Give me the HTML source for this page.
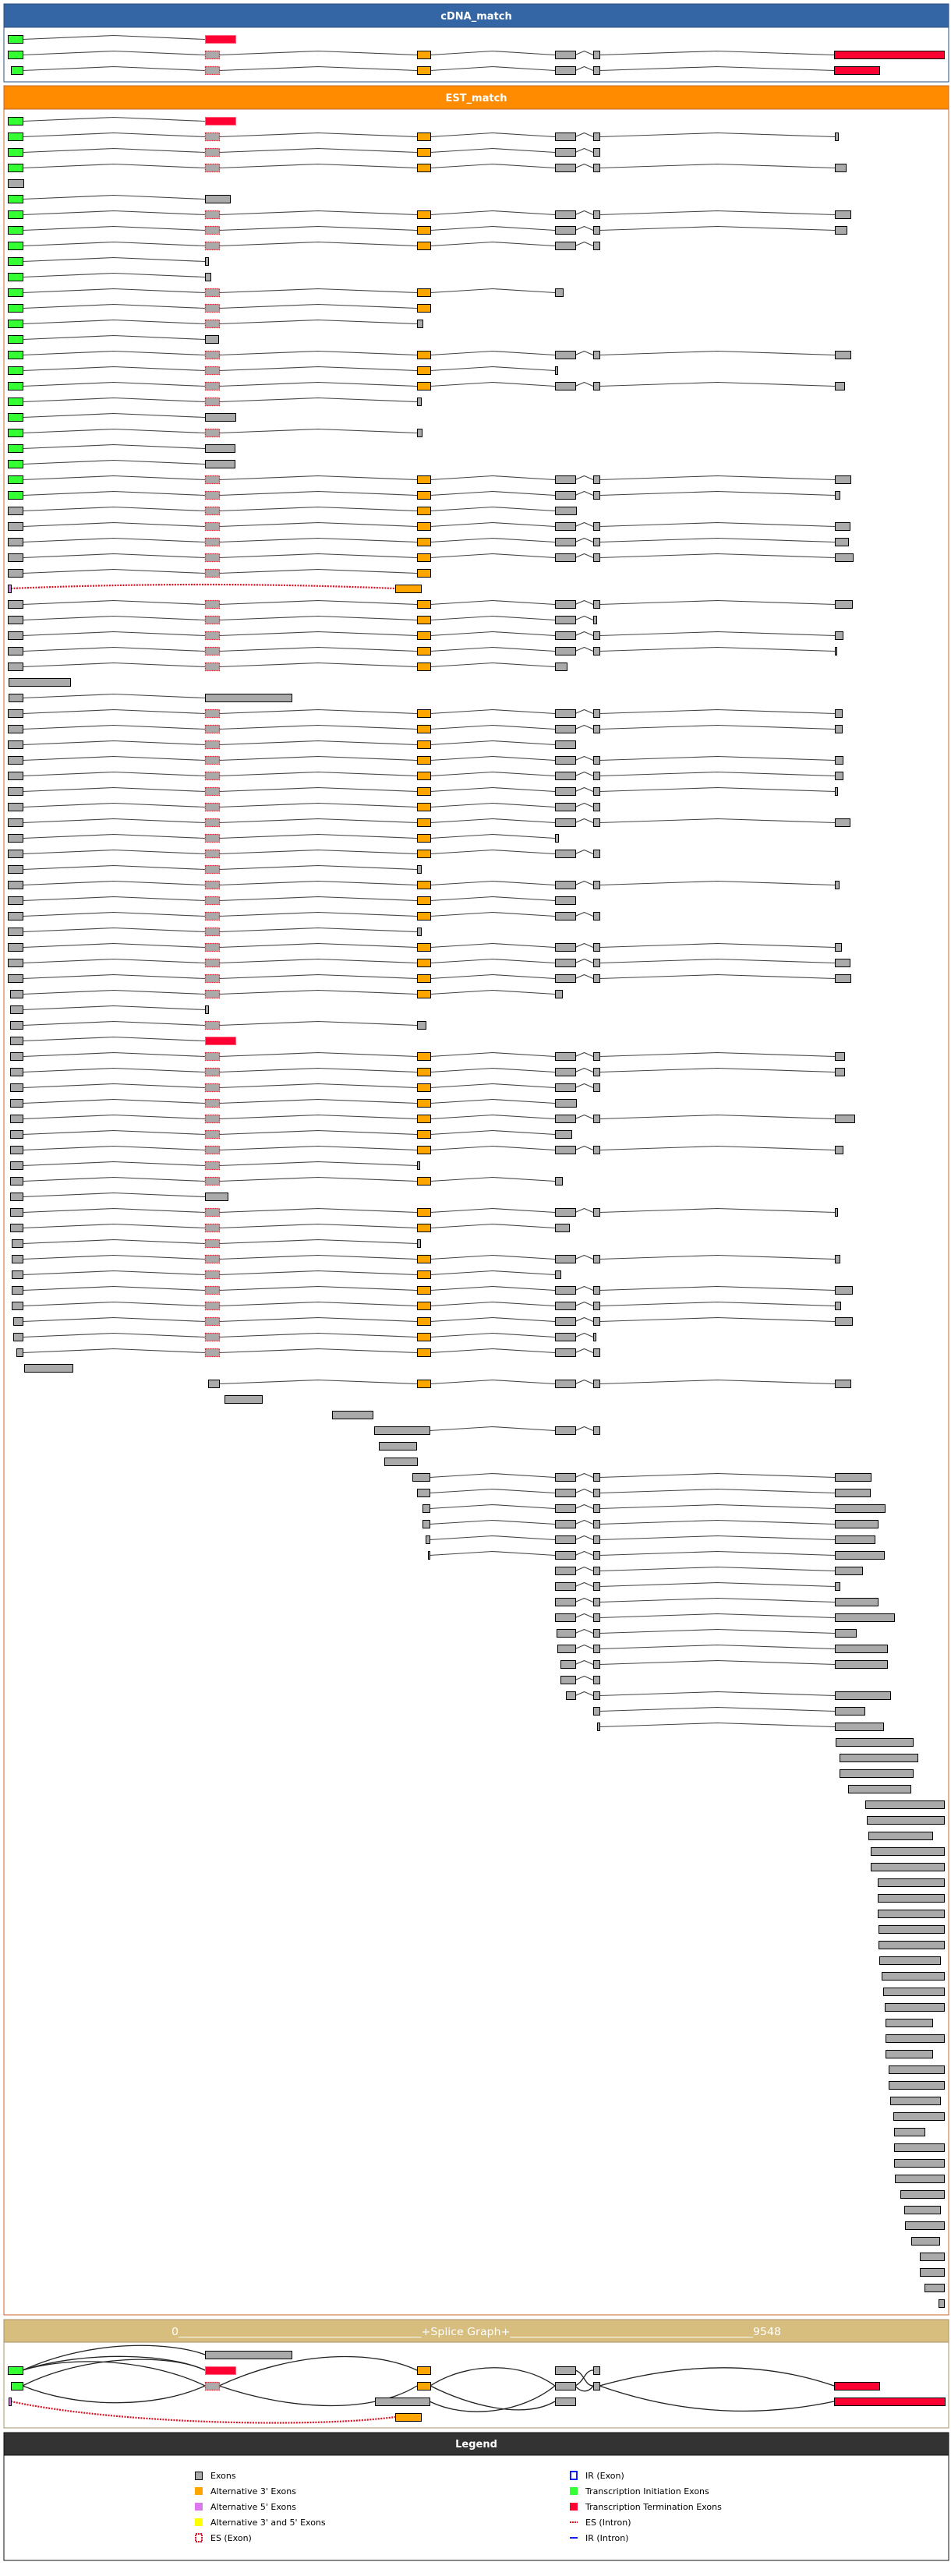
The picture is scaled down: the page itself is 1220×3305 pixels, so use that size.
<!DOCTYPE html>
<html><head><meta charset="utf-8"><style>
html,body{margin:0;padding:0;background:#fff;width:1220px;height:3305px;overflow:hidden}
svg{display:block}
text{font-family:"DejaVu Sans","Liberation Sans",sans-serif}
</style></head><body>
<svg id="s" width="1220" height="3305" xmlns="http://www.w3.org/2000/svg">
<rect x="5" y="5" width="1212" height="30" fill="#3465a5" stroke="#2b4f7a"/>
<rect x="5" y="35" width="1212" height="70" fill="#fff" stroke="#2b4f7a"/>
<text x="611" y="25" fill="#fff" font-size="13" font-weight="bold" text-anchor="middle">cDNA_match</text>
<rect x="5" y="110" width="1212" height="30" fill="#ff8c00" stroke="#c8642a"/>
<rect x="5" y="140" width="1212" height="2830" fill="#fff" stroke="#c8642a"/>
<text x="611" y="130" fill="#fff" font-size="13" font-weight="bold" text-anchor="middle">EST_match</text>
<rect x="5" y="2976" width="1212" height="29" fill="#d7bd7e" stroke="#a8936a"/>
<rect x="5" y="3005" width="1212" height="110" fill="#fff" stroke="#a8936a"/>
<text x="220" y="2996" fill="#fff" font-size="13" textLength="782" lengthAdjust="spacingAndGlyphs">0____________________________________________+Splice Graph+____________________________________________9548</text>
<rect x="5" y="3121" width="1212" height="29" fill="#333" stroke="#111"/>
<rect x="5" y="3150" width="1212" height="135" fill="#fff" stroke="#111"/>
<text x="611" y="3140" fill="#fff" font-size="13" font-weight="bold" text-anchor="middle">Legend</text>
<g id="g"></g>
</svg>
<script>
var N={G:[10,29,'G'],X:[10,29,'X'],E:[263,281,'E'],O:[535,552,'O'],A:[712,738,'X'],B:[761,769,'X'],R:[263,302,'R'],P:[10,14,'P']};
var col={G:'#33ff33',X:'#aaaaaa',E:'#aaaaaa',O:'#ffa500',R:'#ff0033',P:'#dd77ee',Rd:'#ff0033'};
function parse(t){
  if(N[t])return N[t].slice();
  var k='X';
  if(/^[a-z]/.test(t)){var c=t[0];t=t.slice(1);k={g:'G',r:'Rd',o:'O'}[c];}
  var p=t.split('-');return [+p[0],+p[1],k];
}
var out=[];
function exon(e,y){
  var x=e[0],w=Math.max(e[1]-e[0],2),k=e[2];
  if(k=='E')out.push('<rect x="'+x+'.5" y="'+(y-5)+'.5" width="'+w+'" height="10" fill="#aaa" stroke="#ff1a2a" stroke-width="1.3" stroke-dasharray="2,1"/>');
  else if(k=='R')out.push('<rect x="'+x+'.5" y="'+(y-5)+'.5" width="'+w+'" height="10" fill="#ff0033" stroke="#ff5570" stroke-dasharray="2,1"/>');
  else out.push('<rect x="'+x+'.5" y="'+(y-5)+'.5" width="'+w+'" height="10" fill="'+col[k]+'" stroke="#000"/>');
}
function row(s,y){
  var toks=s.split(' '),ex=[],dot=[];
  var d=false;
  toks.forEach(function(t){if(t=='D'){d=true;return;}ex.push(parse(t));dot.push(d);d=false;});
  for(var i=1;i<ex.length;i++){
    var a=ex[i-1][1],b=ex[i][0],m=(a+b)/2;
    if(dot[i])out.push('<path d="M'+a+' '+y+' Q'+m+' '+(y-10)+' '+b+' '+y+'" fill="none" stroke="#dd1122" stroke-width="2.2" stroke-dasharray="2,1.5"/>');
    else out.push('<polyline points="'+a+','+(y+.5)+' '+m+','+(y-4.5)+' '+b+','+(y+.5)+'" fill="none" stroke="#444" stroke-width="1.1"/>');
  }
  ex.forEach(function(e){exon(e,y);});
}
var cd=["G R","G E O A B r1070-1211","g14-29 E O A B r1070-1128"];
cd.forEach(function(s,i){row(s,50+20*i);});
var F="X E O A B ",GG="G E O A B ";
var est=["G R",GG+"1071-1075","G E O A B",GG+"1071-1085","10-30","G 263-295",GG+"1071-1091",GG+"1071-1086","G E O A B","G 263-267",
"G 263-270","G E O 712-722","G E O","G E 535-542","G 263-280",GG+"1071-1091","G E O 712-715",GG+"1071-1083","G E 535-540","G 263-302",
"G E 535-541","G 263-301","G 263-301",GG+"1071-1091",GG+"1071-1077","X E O 712-739",F+"1071-1090",F+"1071-1088",F+"1071-1094","X E O",
"P D o507-540",F+"1071-1093","X E O A 761-765",F+"1071-1081",F+"1071-1073","X E O 712-727","11-90","11-29 263-374",F+"1071-1080",F+"1071-1080",
"X E O 712-738",F+"1071-1081",F+"1071-1081",F+"1071-1074","X E O A B",F+"1071-1090","X E O 712-716","X E O A B","X E 535-540",F+"1071-1076",
"X E O 712-738","X E O A B","X E 535-540",F+"1071-1079",F+"1071-1090",F+"1071-1091","13-29 E O 712-721","13-29 263-267","13-29 E 535-546","13-29 R",
"13-29 E O A B 1071-1083","13-29 E O A B 1071-1083","13-29 E O A B","13-29 E O 712-739","13-29 E O A B 1071-1096","13-29 E O 712-733","13-29 E O A B 1071-1081","13-29 E 535-538","13-29 E O 712-721","13-29 263-292",
"13-29 E O A B 1071-1074","13-29 E O 712-730","15-29 E 535-539","15-29 E O A B 1071-1077","15-29 E O 712-719","15-29 E O A B 1071-1093","15-29 E O A B 1071-1078","17-29 E O A B 1071-1093","17-29 E O A 761-764","21-29 E O A B",
"31-93","267-281 O A B 1071-1091","288-336","426-478","480-551 A B","486-534","493-535","529-551 A B 1071-1117","535-551 A B 1071-1116","542-551 A B 1071-1135",
"542-551 A B 1071-1126","546-551 A B 1071-1122","549-551 A B 1071-1134","A B 1071-1106","A B 1071-1077","A B 1071-1126","A B 1071-1147","714-738 B 1071-1098","715-738 B 1071-1138","719-738 B 1071-1138",
"719-738 B","726-738 B 1071-1142","B 1071-1109","766-769 1071-1133","1072-1171","1077-1177","1077-1171","1088-1168","1110-1211","1112-1211",
"1114-1196","1117-1211","1117-1211","1126-1211","1126-1211","1126-1211","1127-1211","1127-1211","1128-1206","1131-1211",
"1133-1211","1135-1211","1136-1196","1136-1211","1136-1196","1140-1211","1140-1211","1142-1206","1146-1211","1147-1186",
"1147-1211","1147-1211","1148-1211","1155-1211","1160-1206","1161-1211","1169-1205","1180-1211","1180-1211","1186-1211","1204-1211"];
est.forEach(function(s,i){row(s,155+20*i);});
var L='fill="none" stroke="#222" stroke-width="1.3"';
out.push('<path d="M29 3041 C120 3000 220 3005 263 3021" '+L+'/>');
out.push('<path d="M29 3041 C110 3015 220 3020 263 3041" '+L+'/>');
out.push('<path d="M29 3041 C100 3020 200 3030 263 3061" '+L+'/>');
out.push('<path d="M29 3061 C110 3020 220 3020 263 3041" '+L+'/>');
out.push('<path d="M29 3061 C100 3090 200 3090 263 3061" '+L+'/>');
out.push('<path d="M281 3061 C380 3015 480 3015 535 3041" '+L+'/>');
out.push('<path d="M281 3061 C380 3095 480 3095 535 3061" '+L+'/>');
out.push('<path d="M552 3061 C600 3030 670 3030 712 3061" '+L+'/>');
out.push('<path d="M552 3061 C600 3085 670 3105 712 3081" '+L+'/>');
out.push('<path d="M551 3081 C600 3105 670 3095 712 3061" '+L+'/>');
out.push('<path d="M738 3041 C750 3045 750 3061 761 3061" '+L+'/>');
out.push('<path d="M738 3061 C750 3055 750 3041 761 3041" '+L+'/>');
out.push('<path d="M738 3061 C745 3070 755 3070 761 3061" '+L+'/>');
out.push('<path d="M769 3061 C880 3030 980 3030 1070 3061" '+L+'/>');
out.push('<path d="M769 3061 C880 3100 980 3100 1070 3081" '+L+'/>');
out.push('<path d="M14 3081 C150 3110 400 3115 507 3101" fill="none" stroke="#dd1122" stroke-width="2.2" stroke-dasharray="2,1.5"/>');
[[263,374,'X',3021],[10,29,'G',3041],[263,302,'R',3041],[535,552,'O',3041],[712,738,'X',3041],[761,769,'X',3041],
 [14,29,'G',3061],[263,281,'E',3061],[535,552,'O',3061],[712,738,'X',3061],[761,769,'X',3061],[1070,1128,'Rd',3061],
 [11,14,'P',3081],[481,551,'X',3081],[712,738,'X',3081],[1070,1212,'Rd',3081],[507,540,'O',3101]].forEach(function(e){exon(e,e[3]);});
function lt(x,y,t){out.push('<text x="'+x+'" y="'+(y+4)+'" font-size="11" fill="#000">'+t+'</text>');}
var ly=[3176,3196,3216,3236,3256];
out.push('<rect x="250.5" y="3171.5" width="9" height="10" fill="#aaa" stroke="#000"/>');lt(270,ly[0],'Exons');
out.push('<rect x="250" y="3191" width="10" height="10" fill="#ffa500"/>');lt(270,ly[1],"Alternative 3' Exons");
out.push('<rect x="250" y="3211" width="10" height="10" fill="#dd77ee"/>');lt(270,ly[2],"Alternative 5' Exons");
out.push('<rect x="250" y="3231" width="10" height="10" fill="#ffff00"/>');lt(270,ly[3],"Alternative 3' and 5' Exons");
out.push('<rect x="251" y="3251" width="8" height="10" fill="#fff" stroke="#dd1122" stroke-width="2" stroke-dasharray="2,1"/>');lt(270,ly[4],'ES (Exon)');
out.push('<rect x="732" y="3171" width="8" height="10" fill="#fff" stroke="#1122ee" stroke-width="2"/>');lt(751,ly[0],'IR (Exon)');
out.push('<rect x="731" y="3191" width="10" height="10" fill="#33ff33"/>');lt(751,ly[1],'Transcription Initiation Exons');
out.push('<rect x="731" y="3211" width="10" height="10" fill="#ff0033"/>');lt(751,ly[2],'Transcription Termination Exons');
out.push('<line x1="731" y1="3236" x2="741" y2="3236" stroke="#dd1122" stroke-width="2" stroke-dasharray="2,1"/>');lt(751,ly[3],'ES (Intron)');
out.push('<line x1="731" y1="3256" x2="741" y2="3256" stroke="#1122ee" stroke-width="2"/>');lt(751,ly[4],'IR (Intron)');
document.getElementById('g').innerHTML=out.join('');
</script>
</body></html>
